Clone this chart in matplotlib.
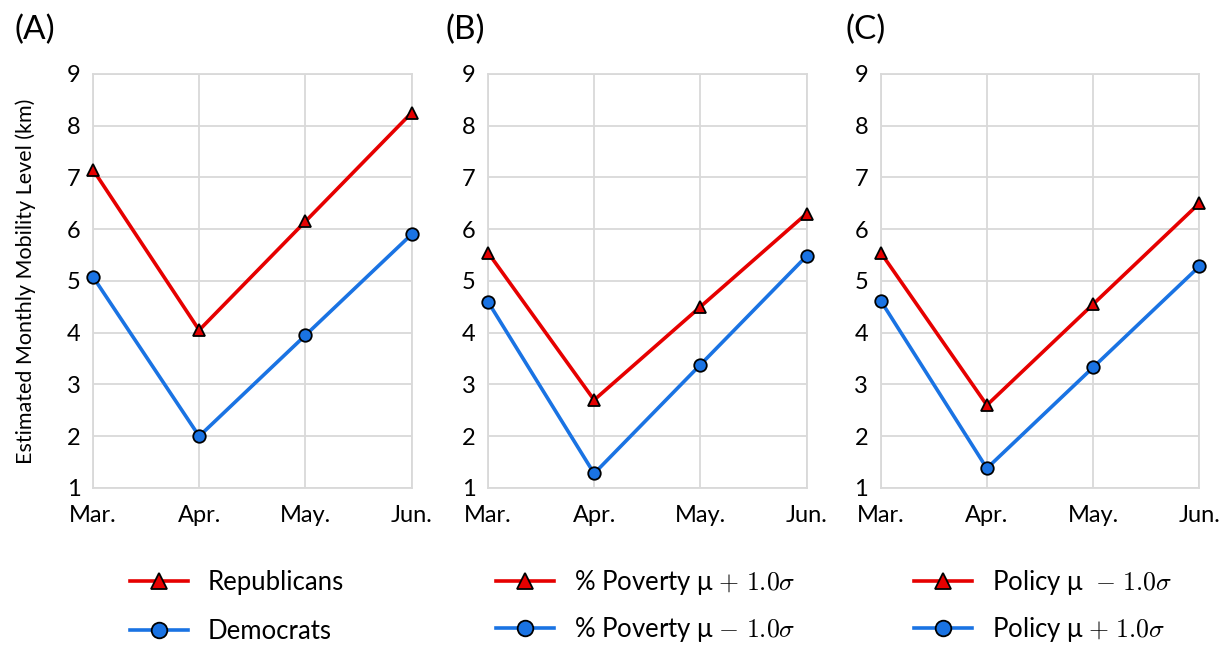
import matplotlib.pyplot as plt
import numpy as np

plt.rcParams['font.family'] = ['Lato', 'DejaVu Sans']
plt.rcParams['mathtext.fontset'] = 'cm'

months = ["Mar.", "Apr.", "May.", "Jun."]

# (A) party
rep = [7.15, 4.05, 6.15, 8.25]
dem = [5.08, 2.0, 3.95, 5.9]
# (B) poverty
pov_hi = [5.55, 2.7, 4.5, 6.3]
pov_lo = [4.6, 1.28, 3.38, 5.48]
# (C) policy
pol_lo = [5.55, 2.6, 4.55, 6.5]
pol_hi = [4.62, 1.38, 3.33, 5.28]

panels = ["(A)", "(B)", "(C)"]
red_labels = ["Republicans", r"% Poverty μ $+\ 1.0\sigma$", r"Policy μ  $-\ 1.0\sigma$"]
blue_labels = ["Democrats", r"% Poverty μ $-\ 1.0\sigma$", r"Policy μ $+\ 1.0\sigma$"]
red_series = [rep, pov_hi, pol_lo]
blue_series = [dem, pov_lo, pol_hi]

RED = "#e60000"
BLUE = "#1a73e3"

fig = plt.figure(figsize=(12.3, 6.46), dpi=100)
lefts = [0.0756, 0.3967, 0.716]
panel_x = [0.012, 0.362, 0.687]
leg_x = [0.1057, 0.4033, 0.743]
leg_y = [0.118, 0.121, 0.121]
# math labels are taller, so their rows need less spacing
leg_spacing = [0.95, 0.72, 0.72]
x = np.arange(len(months))

for i in range(3):
    ax = fig.add_axes([lefts[i], 0.2446, 0.259, 0.6409])
    ax.plot(x, red_series[i], color=RED, lw=2.6, marker="^", ms=9,
            mfc=RED, mec="black", mew=1.3, clip_on=False, zorder=3, label=red_labels[i])
    ax.plot(x, blue_series[i], color=BLUE, lw=2.6, marker="o", ms=9,
            mfc=BLUE, mec="black", mew=1.3, clip_on=False, zorder=3, label=blue_labels[i])
    ax.set_xlim(0, 3)
    ax.set_ylim(1, 9)
    ax.set_yticks(range(1, 10))
    ax.set_xticks(x)
    ax.set_xticklabels(months)
    ax.grid(True, color="#d9d9d9", lw=1.3)
    ax.set_axisbelow(True)
    for s in ax.spines.values():
        s.set_color("#d9d9d9")
        s.set_linewidth(1.3)
    ax.tick_params(length=0, labelsize=17, pad=9)
    ax.tick_params(axis="x", pad=12)
    if i == 0:
        ax.set_ylabel("Estimated Monthly Mobility Level (km)", fontsize=15.5, labelpad=22)
    fig.text(panel_x[i], 0.953, panels[i], fontsize=24, va="center")
    h, l = ax.get_legend_handles_labels()
    fig.legend(h, l, loc="upper left", bbox_to_anchor=(leg_x[i], leg_y[i]),
               frameon=False, fontsize=18.5, handlelength=2.26, labelspacing=leg_spacing[i],
               handletextpad=0.78, borderaxespad=0, borderpad=0, markerscale=1.25)

fig.savefig("out.png", dpi=100)
